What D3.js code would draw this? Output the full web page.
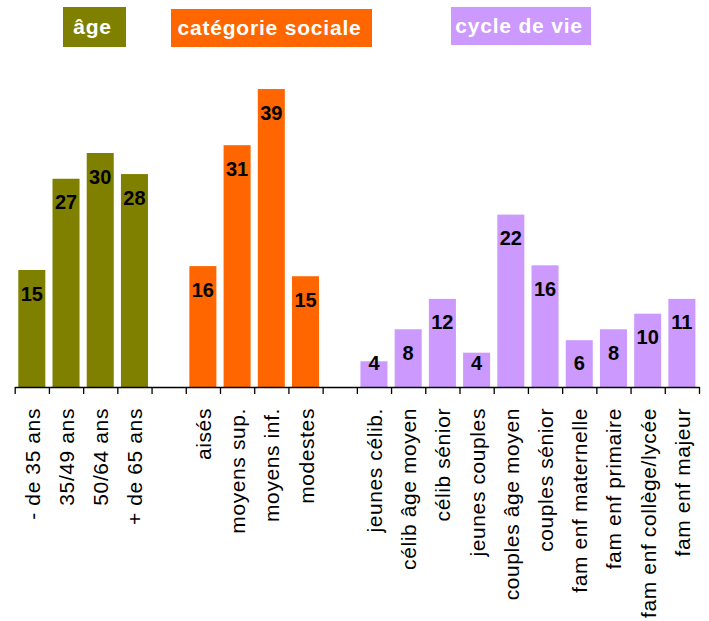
<!DOCTYPE html>
<html>
<head>
<meta charset="utf-8">
<script src="https://cdn.jsdelivr.net/npm/d3@7"></script>
<style>
  body { margin: 0; background: #fff; }
  text { font-family: Arial, "Liberation Sans", sans-serif; }
</style>
</head>
<body>
<script>
const width = 709;
const height = 621;

// data
const ageCats = ['- de 35 ans', '35/49 ans', '50/64 ans', '+ de 65 ans'];
const ageValues = [15.0, 26.7, 30.0, 27.3];
const ageLabels = ['15', '27', '30', '28'];

const socCats = ['aisés', 'moyens sup.', 'moyens inf.', 'modestes'];
const socValues = [15.5, 31.0, 38.2, 14.2];
const socLabels = ['16', '31', '39', '15'];

const cycleCats = ['jeunes célib.', 'célib âge moyen', 'célib sénior', 'jeunes couples',
  'couples âge moyen', 'couples sénior', 'fam enf maternelle', 'fam enf primaire',
  'fam enf collège/lycée', 'fam enf majeur'];
const cycleValues = [3.3, 7.4, 11.3, 4.4, 22.1, 15.6, 6.0, 7.4, 9.4, 11.3];
const cycleLabels = ['4', '8', '12', '4', '22', '16', '6', '8', '10', '11'];

const groupTitles = ['âge', 'catégorie sociale', 'cycle de vie'];
const groupColors = ['#808000', '#ff6600', '#cc99ff'];

// one slot per bar, plus an empty slot after the first two groups
const groups = [
  {cats: ageCats, values: ageValues, labels: ageLabels},
  {cats: socCats, values: socValues, labels: socLabels},
  {cats: cycleCats, values: cycleValues, labels: cycleLabels}
];
const slots = [];
groups.forEach((g, gi) => {
  g.cats.forEach((c, i) => slots.push({cat: c, value: g.values[i], label: g.labels[i], group: gi}));
  if (gi < groups.length - 1) slots.push(null);
});

const baseY = 387;
const x = d3.scaleBand()
  .domain(d3.range(slots.length))
  .range([14.7, 699])
  .paddingInner(0.21)
  .paddingOuter(0.105);

const y = d3.scaleLinear()
  .domain([0, 40])
  .range([baseY, baseY - 7.8 * 40]);

const svg = d3.select('body')
  .append('svg')
  .attr('width', width)
  .attr('height', height);

const bars = slots.map((d, i) => d && Object.assign({i}, d)).filter(d => d);

svg.append('g')
  .selectAll('rect')
  .data(bars)
  .join('rect')
  .attr('x', d => x(d.i))
  .attr('width', x.bandwidth())
  .attr('y', d => y(d.value))
  .attr('height', d => baseY - y(d.value))
  .attr('fill', d => groupColors[d.group]);

svg.append('g')
  .selectAll('text')
  .data(bars)
  .join('text')
  .attr('x', d => x(d.i) + x.bandwidth() / 2)
  .attr('y', d => Math.min(y(d.value) + 23, baseY - 25) + 7.5)
  .attr('text-anchor', 'middle')
  .attr('font-size', 20)
  .attr('font-weight', 'bold')
  .attr('fill', '#000')
  .text(d => d.label);

// axis line with ticks between categories
const edges = d3.scaleLinear().domain([0, slots.length]).range(x.range());
svg.append('g')
  .attr('transform', `translate(0,${baseY})`)
  .call(d3.axisBottom(edges).ticks(slots.length).tickSize(7).tickSizeOuter(0).tickFormat(''))
  .call(g => g.selectAll('line, path').attr('stroke', '#000').attr('stroke-width', 1.3));

// category labels
svg.append('g')
  .attr('transform', `translate(0,${baseY})`)
  .call(d3.axisBottom(x).tickSize(0).tickFormat(i => slots[i] ? slots[i].cat : ''))
  .call(g => g.select('.domain').remove())
  .call(g => g.selectAll('text')
    .attr('transform', 'rotate(-90)')
    .attr('x', -21)
    .attr('y', 0)
    .attr('dy', '0.38em')
    .attr('text-anchor', 'end')
    .attr('font-size', 21)
    .attr('letter-spacing', 0.6)
    .attr('fill', '#000'));

// group titles
const titleBoxes = [
  {x: 63, w: 63, y: 7, h: 40},
  {x: 171, w: 201, y: 9, h: 38},
  {x: 451, w: 140, y: 7, h: 38}
];
const titles = svg.append('g')
  .selectAll('g')
  .data(groupTitles)
  .join('g');
titles.append('rect')
  .attr('x', (d, i) => titleBoxes[i].x)
  .attr('y', (d, i) => titleBoxes[i].y)
  .attr('width', (d, i) => titleBoxes[i].w)
  .attr('height', (d, i) => titleBoxes[i].h)
  .attr('fill', (d, i) => groupColors[i]);
titles.append('text')
  .attr('x', (d, i) => titleBoxes[i].x + titleBoxes[i].w / 2 - 2)
  .attr('y', (d, i) => titleBoxes[i].y + titleBoxes[i].h / 2 + 7)
  .attr('text-anchor', 'middle')
  .attr('font-size', 21)
  .attr('font-weight', 'bold')
  .attr('letter-spacing', 0.8)
  .attr('fill', '#fff')
  .text(d => d);
</script>
</body>
</html>
